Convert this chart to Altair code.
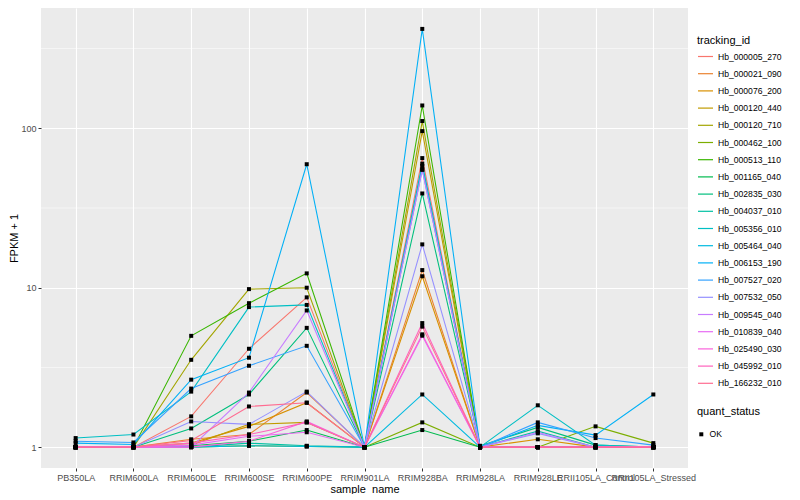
import altair as alt
import pandas as pd

samples = ["PB350LA", "RRIM600LA", "RRIM600LE", "RRIM600SE", "RRIM600PE",
           "RRIM901LA", "RRIM928BA", "RRIM928LA", "RRIM928LE",
           "RRII105LA_Control", "RRII105LA_Stressed"]

tracking_ids = ["Hb_000005_270", "Hb_000021_090", "Hb_000076_200", "Hb_000120_440",
                "Hb_000120_710", "Hb_000462_100", "Hb_000513_110", "Hb_001165_040",
                "Hb_002835_030", "Hb_004037_010", "Hb_005356_010", "Hb_005464_040",
                "Hb_006153_190", "Hb_007527_020", "Hb_007532_050", "Hb_009545_040",
                "Hb_010839_040", "Hb_025490_030", "Hb_045992_010", "Hb_166232_010"]

palette = ["#F8766D", "#EA8331", "#D89000", "#C09B00", "#A3A500", "#7CAE00",
           "#39B600", "#00BB4E", "#00BF7D", "#00C1A3", "#00BFC4", "#00BAE0",
           "#00B0F6", "#35A2FF", "#9590FF", "#C77CFF", "#E76BF3", "#FA62DB",
           "#FF62BC", "#FF6C91"]

# FPKM + 1 per sample (same order as samples)
v_000005_270 = [1.00, 1.00, 1.56, 4.14, 8.70, 1.00, 65.0, 1.00, 1.00, 1.00, 1.00]
v_000021_090 = [1.00, 1.00, 1.12, 1.20, 2.20, 1.00, 12.9, 1.00, 1.00, 1.00, 1.00]
v_000076_200 = [1.00, 1.00, 1.06, 1.35, 1.90, 1.00, 11.8, 1.00, 1.12, 1.00, 1.00]
v_000120_440 = [1.00, 1.00, 1.03, 1.39, 1.43, 1.00, 96.0, 1.00, 1.00, 1.00, 1.00]
v_000120_710 = [1.00, 1.00, 3.53, 9.80, 10.0, 1.00, 111.0, 1.00, 1.00, 1.00, 1.00]
v_000462_100 = [1.00, 1.00, 1.00, 1.02, 1.01, 1.00, 1.43, 1.00, 1.00, 1.35, 1.06]
v_000513_110 = [1.00, 1.00, 4.99, 8.00, 12.3, 1.00, 139.0, 1.00, 1.00, 1.00, 1.00]
v_001165_040 = [1.00, 1.00, 1.02, 1.09, 1.28, 1.00, 1.28, 1.00, 1.00, 1.00, 1.00]
v_002835_030 = [1.00, 1.00, 1.31, 2.14, 5.60, 1.00, 39.0, 1.02, 1.33, 1.03, 1.00]
v_004037_010 = [1.00, 1.00, 1.00, 1.06, 1.02, 1.00, 58.0, 1.00, 1.26, 1.00, 1.00]
v_005356_010 = [1.14, 1.20, 2.23, 7.56, 7.80, 1.00, 60.0, 1.00, 1.83, 1.03, 1.00]
v_005464_040 = [1.00, 1.00, 1.00, 1.02, 1.01, 1.00, 2.14, 1.00, 1.00, 1.00, 1.00]
v_006153_190 = [1.06, 1.04, 2.65, 3.64, 59.5, 1.00, 420.0, 1.00, 1.37, 1.19, 2.14]
v_007527_020 = [1.09, 1.07, 2.33, 3.24, 4.32, 1.00, 55.0, 1.00, 1.43, 1.14, 1.03]
v_007532_050 = [1.00, 1.00, 1.45, 1.39, 2.23, 1.00, 18.7, 1.00, 1.22, 1.00, 1.00]
v_009545_040 = [1.00, 1.00, 1.00, 2.20, 7.20, 1.00, 55.0, 1.00, 1.24, 1.00, 1.00]
v_010839_040 = [1.00, 1.00, 1.03, 1.17, 1.24, 1.00, 5.00, 1.00, 1.00, 1.00, 1.00]
v_025490_030 = [1.00, 1.00, 1.00, 1.09, 1.45, 1.00, 5.10, 1.00, 1.00, 1.00, 1.00]
v_045992_010 = [1.00, 1.00, 1.06, 1.20, 1.43, 1.00, 6.00, 1.00, 1.00, 1.00, 1.00]
v_166232_010 = [1.00, 1.00, 1.10, 1.80, 1.90, 1.00, 5.70, 1.00, 1.00, 1.00, 1.00]

series = [v_000005_270, v_000021_090, v_000076_200, v_000120_440, v_000120_710,
          v_000462_100, v_000513_110, v_001165_040, v_002835_030, v_004037_010,
          v_005356_010, v_005464_040, v_006153_190, v_007527_020, v_007532_050,
          v_009545_040, v_010839_040, v_025490_030, v_045992_010, v_166232_010]

major_breaks = [1, 10, 100]
minor_breaks = [3.1623, 31.623, 316.23]

rows = []
for tid, vals in zip(tracking_ids, series):
    for s, v in zip(samples, vals):
        rows.append({"sample_name": s, "tracking_id": tid, "value": v, "quant_status": "OK"})
df = pd.DataFrame(rows)
minor_df = pd.DataFrame({"value": minor_breaks})

FONT = "Liberation Sans"
yscale = alt.Scale(type="log", domain=[0.74, 568], nice=False)
xscale = alt.Scale(type="point", padding=0.6)

x_axis = alt.Axis(title="sample_name", labelAngle=0, labelOverlap=False,
                  grid=True, gridColor="white", gridWidth=1.1,
                  domain=False, tickColor="#333333", tickSize=3,
                  labelColor="#4D4D4D", labelFontSize=9, labelPadding=2,
                  titleFontSize=11, titleFontWeight="normal", titlePadding=1,
                  labelFont=FONT, titleFont=FONT)
y_axis = alt.Axis(title="FPKM + 1", values=major_breaks, format=".0f",
                  grid=True, gridColor="white", gridWidth=1.1,
                  domain=False, tickColor="#333333", tickSize=3,
                  labelColor="#4D4D4D", labelFontSize=9, labelPadding=2,
                  titleFontSize=11, titleFontWeight="normal", titlePadding=1,
                  labelFont=FONT, titleFont=FONT)

minor = alt.Chart(minor_df).mark_rule(color="white", strokeWidth=0.55).encode(
    y=alt.Y("value:Q", scale=yscale, axis=y_axis)
)

lines = alt.Chart(df).mark_line(strokeWidth=1.07).encode(
    x=alt.X("sample_name:N", sort=samples, scale=xscale, axis=x_axis),
    y=alt.Y("value:Q", scale=yscale, axis=y_axis),
    color=alt.Color("tracking_id:N", scale=alt.Scale(domain=tracking_ids, range=palette),
                    legend=alt.Legend(title="tracking_id", symbolType="stroke",
                                      symbolSize=225, symbolStrokeWidth=1.2,
                                      rowPadding=3.2, titlePadding=2, orient="none",
                                      legendX=656, legendY=27)),
    detail="tracking_id:N",
)

points = alt.Chart(df).mark_point(filled=True, size=16, color="black", opacity=1).encode(
    x=alt.X("sample_name:N", sort=samples, scale=xscale, axis=x_axis),
    y=alt.Y("value:Q", scale=yscale, axis=y_axis),
    shape=alt.Shape("quant_status:N", scale=alt.Scale(domain=["OK"], range=["square"]),
                    legend=alt.Legend(title="quant_status", symbolFillColor="black",
                                      symbolStrokeColor="black", symbolSize=16,
                                      titlePadding=13, orient="none",
                                      legendX=656, legendY=398)),
)

chart = alt.layer(minor, lines, points).properties(
    width=647, height=460,
    padding={"left": 0, "top": 0, "right": 0, "bottom": 0},
).configure_view(
    fill="#EBEBEB", stroke=None
).configure_legend(
    titleFontSize=11, titleFontWeight="normal", titleColor="black", titleFont=FONT,
    labelFontSize=8.6, labelColor="black", labelFont=FONT,
)

chart.save("out.html", embed_options={"renderer": "svg", "actions": False})
